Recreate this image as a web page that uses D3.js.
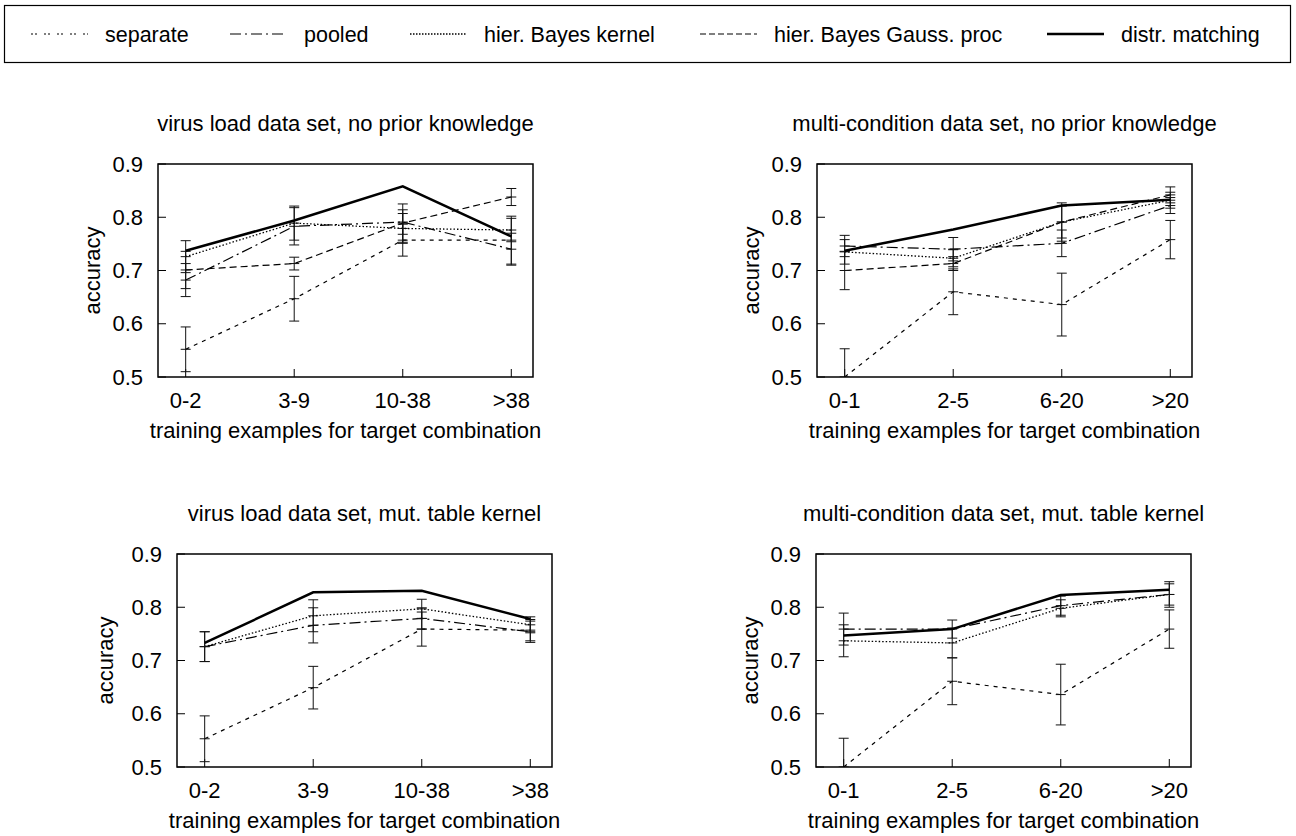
<!DOCTYPE html>
<html>
<head>
<meta charset="utf-8">
<script src="https://cdn.jsdelivr.net/npm/d3@7"></script>
<style>
  body { margin: 0; background: #fff; }
  svg { font-family: "Liberation Sans", Arial, Helvetica, sans-serif; }
</style>
</head>
<body>
<script>

  //Chart values
  var seriesNames = ["separate", "pooled", "hier. Bayes kernel", "hier. Bayes Gauss. proc", "distr. matching"];
  var virusCats = ["0-2", "3-9", "10-38", ">38"];
  var multiCats = ["0-1", "2-5", "6-20", ">20"];
  var yTicks = [0.5, 0.6, 0.7, 0.8, 0.9];
  var panelTitles = [
    "virus load data set, no prior knowledge",
    "multi-condition data set, no prior knowledge",
    "virus load data set, mut. table kernel",
    "multi-condition data set, mut. table kernel"
  ];
  var xTitle = "training examples for target combination";
  var yTitle = "accuracy";

  // rows follow seriesNames, null = series not in that panel
  var virusNoPriorMean = [
    [0.552, 0.647, 0.757, 0.757],
    [0.682, 0.783, 0.791, 0.740],
    [0.726, 0.789, 0.779, 0.776],
    [0.701, 0.713, 0.789, 0.838],
    [0.737, 0.794, 0.858, 0.764]
  ];
  var virusNoPriorErr = [
    [0.042, 0.042, 0.030, 0.045],
    [0.031, 0.035, 0.023, 0.030],
    [0.030, 0.032, 0.028, 0.022],
    [0.035, 0.012, 0.036, 0.016],
    null
  ];

  var multiNoPriorMean = [
    [0.500, 0.660, 0.636, 0.758],
    [0.746, 0.740, 0.751, 0.822],
    [0.735, 0.723, 0.791, 0.832],
    [0.700, 0.713, 0.791, 0.842],
    [0.737, 0.777, 0.822, 0.833]
  ];
  var multiNoPriorErr = [
    [0.053, 0.043, 0.059, 0.036],
    [0.020, 0.022, 0.025, 0.015],
    [0.023, 0.016, 0.030, 0.015],
    [0.036, 0.013, 0.036, 0.015],
    null
  ];

  var virusMutMean = [
    [0.553, 0.649, 0.759, 0.757],
    [0.726, 0.766, 0.779, 0.754],
    [0.726, 0.784, 0.797, 0.767],
    null,
    [0.733, 0.828, 0.831, 0.778]
  ];
  var virusMutErr = [
    [0.043, 0.040, 0.032, 0.020],
    [0.028, 0.033, 0.020, 0.020],
    [0.028, 0.030, 0.018, 0.015],
    null,
    null
  ];

  var multiMutMean = [
    [0.500, 0.661, 0.636, 0.759],
    [0.759, 0.759, 0.803, 0.824],
    [0.737, 0.733, 0.798, 0.824],
    null,
    [0.747, 0.759, 0.823, 0.833]
  ];
  var multiMutErr = [
    [0.054, 0.044, 0.057, 0.036],
    [0.030, 0.017, 0.018, 0.024],
    [0.030, 0.028, 0.016, 0.020],
    null,
    null
  ];


  //Line styles for the five series
  var dashes = ["4,5", "11,4,2,4", "1.5,2", "7,4", null];
  var legendDashes = ["2,2,2,7", "11,4,2,4", "1.5,1.5", "6,3", null];
  var widths = [1.2, 1.2, 1.3, 1.2, 2.5];

  var width = 1296, height = 836;
  var frameW = 375, frameH = 213;
  var fontSize = 22;

  var svg = d3.select("body")
    .append("svg")
    .attr("width", width)
    .attr("height", height);

  // panels: position of frame top-left corner
  var panels = [
    { title: panelTitles[0], cats: virusCats, mean: virusNoPriorMean, err: virusNoPriorErr, left: 158, top: 164, yl: 66 },
    { title: panelTitles[1], cats: multiCats, mean: multiNoPriorMean, err: multiNoPriorErr, left: 817, top: 164, yl: 66 },
    { title: panelTitles[2], cats: virusCats, mean: virusMutMean, err: virusMutErr, left: 177, top: 554, yl: 72 },
    { title: panelTitles[3], cats: multiCats, mean: multiMutMean, err: multiMutErr, left: 816, top: 554, yl: 66 }
  ];

  //Legend
  var legendX = [31, 230, 410, 700, 1047];

  svg.append("rect")
    .attr("x", 4.5)
    .attr("y", 5.5)
    .attr("width", 1286)
    .attr("height", 57)
    .attr("fill", "none")
    .attr("stroke", "#000")
    .attr("stroke-width", 1.2);

  var legItem = svg.selectAll(".leg")
    .data(seriesNames)
    .enter().append("g")
    .attr("class", "leg")
    .attr("transform", function(d, i) { return "translate(" + legendX[i] + ",34)"; });

  legItem.append("line")
    .attr("x1", 0)
    .attr("x2", 57)
    .attr("stroke", "#000")
    .attr("stroke-width", function(d, i) { return widths[i]; })
    .attr("stroke-dasharray", function(d, i) { return legendDashes[i]; });

  legItem.append("text")
    .attr("x", 74)
    .attr("dy", "0.35em")
    .attr("font-size", 21.5)
    .text(function(d) { return d; });


  //Draw each panel
  panels.forEach(function(p, pi) {

    var x = d3.scaleLinear()
      .domain([-0.255, 3.2])
      .range([p.left, p.left + frameW]);

    var y = d3.scaleLinear()
      .domain([0.5, 0.9])
      .range([p.top + frameH, p.top]);

    var g = svg.append("g").attr("class", "panel");

    g.append("clipPath")
      .attr("id", "clip" + pi)
      .append("rect")
      .attr("x", p.left)
      .attr("y", p.top)
      .attr("width", frameW)
      .attr("height", frameH);

    // y ticks + labels
    g.selectAll(".ytick")
      .data(yTicks)
      .enter().append("line")
      .attr("class", "ytick")
      .attr("x1", p.left)
      .attr("x2", p.left + 8)
      .attr("y1", function(d) { return y(d); })
      .attr("y2", function(d) { return y(d); })
      .attr("stroke", "#000");

    g.selectAll(".ylab")
      .data(yTicks)
      .enter().append("text")
      .attr("class", "ylab")
      .attr("x", p.left - 15)
      .attr("y", function(d) { return y(d); })
      .attr("dy", "0.35em")
      .attr("text-anchor", "end")
      .attr("font-size", fontSize)
      .text(function(d) { return d3.format(".1f")(d); });

    // x ticks + labels
    g.selectAll(".xtick")
      .data(p.cats)
      .enter().append("line")
      .attr("class", "xtick")
      .attr("x1", function(d, i) { return x(i); })
      .attr("x2", function(d, i) { return x(i); })
      .attr("y1", p.top + frameH)
      .attr("y2", p.top + frameH - 8)
      .attr("stroke", "#000");

    g.selectAll(".xlab")
      .data(p.cats)
      .enter().append("text")
      .attr("class", "xlab")
      .attr("x", function(d, i) { return x(i); })
      .attr("y", p.top + frameH + 31)
      .attr("text-anchor", "middle")
      .attr("font-size", fontSize)
      .text(function(d) { return d; });

    // titles
    g.append("text")
      .attr("x", p.left + frameW / 2)
      .attr("y", p.top - 33)
      .attr("text-anchor", "middle")
      .attr("font-size", fontSize)
      .text(p.title);

    g.append("text")
      .attr("x", p.left + frameW / 2)
      .attr("y", p.top + frameH + 61)
      .attr("text-anchor", "middle")
      .attr("font-size", fontSize)
      .text(xTitle);

    g.append("text")
      .attr("transform", "translate(" + (p.left - p.yl) + "," + (p.top + frameH / 2) + ") rotate(-90)")
      .attr("dy", "0.35em")
      .attr("text-anchor", "middle")
      .attr("font-size", fontSize)
      .text(yTitle);

    var plot = g.append("g").attr("clip-path", "url(#clip" + pi + ")");

    var line = d3.line()
      .x(function(d, i) { return x(i); })
      .y(function(d) { return y(d); });

    p.mean.forEach(function(vals, si) {
      if (!vals) return;

      plot.append("path")
        .attr("d", line(vals))
        .attr("fill", "none")
        .attr("stroke", "#000")
        .attr("stroke-width", widths[si])
        .attr("stroke-dasharray", dashes[si]);

      var errs = p.err[si];
      if (!errs) return;

      var bars = plot.selectAll(".err" + si)
        .data(vals)
        .enter().append("g")
        .attr("class", "err" + si)
        .attr("stroke", "#111")
        .attr("stroke-width", 1);

      bars.append("line")
        .attr("x1", function(d, i) { return x(i); })
        .attr("x2", function(d, i) { return x(i); })
        .attr("y1", function(d, i) { return y(d - errs[i]); })
        .attr("y2", function(d, i) { return y(d + errs[i]); });

      //caps and the "+" point
      [-1, 0, 1].forEach(function(k) {
        bars.append("line")
          .attr("x1", function(d, i) { return x(i) - 5; })
          .attr("x2", function(d, i) { return x(i) + 5; })
          .attr("y1", function(d, i) { return y(d + k * errs[i]); })
          .attr("y2", function(d, i) { return y(d + k * errs[i]); });
      });
    });

    // frame on top
    g.append("rect")
      .attr("x", p.left)
      .attr("y", p.top)
      .attr("width", frameW)
      .attr("height", frameH)
      .attr("fill", "none")
      .attr("stroke", "#000")
      .attr("stroke-width", 1.5);
  });

</script>
</body>
</html>
